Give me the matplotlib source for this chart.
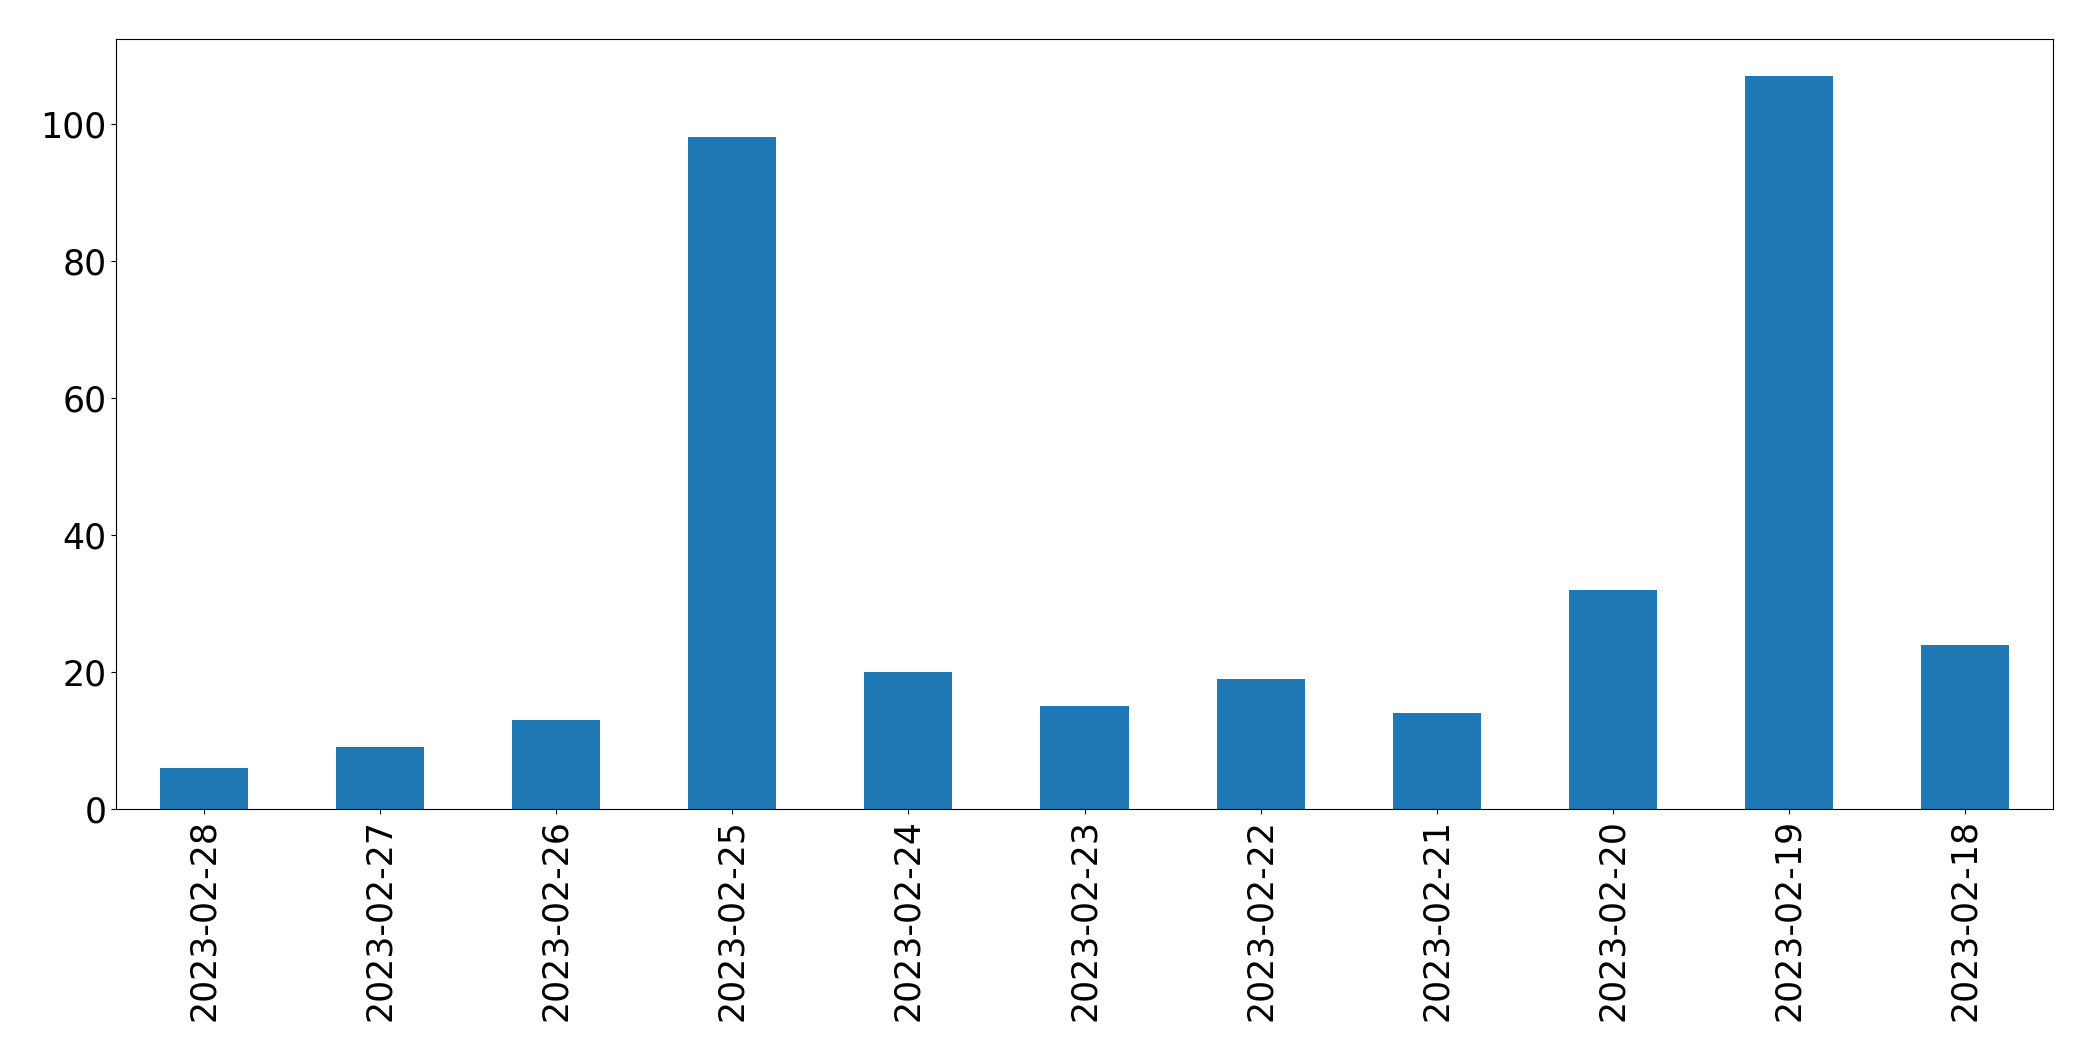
import matplotlib
matplotlib.use("Agg")
import matplotlib.pyplot as plt
import pandas as pd

dates = ["2023-02-28", "2023-02-27", "2023-02-26", "2023-02-25", "2023-02-24",
         "2023-02-23", "2023-02-22", "2023-02-21", "2023-02-20", "2023-02-19",
         "2023-02-18"]
counts = [6, 9, 13, 98, 20, 15, 19, 14, 32, 107, 24]

serie = pd.Series(counts, index=dates)

fig, ax = plt.subplots(figsize=(20.93, 10.61), dpi=100)
serie.plot(kind="bar", ax=ax, color="#1f77b4")
ax.tick_params(axis="both", labelsize=25)
fig.subplots_adjust(left=116 / 2093, right=2053 / 2093, top=1 - 39 / 1061, bottom=1 - 809 / 1061)

fig.savefig("out.png", dpi=100)
